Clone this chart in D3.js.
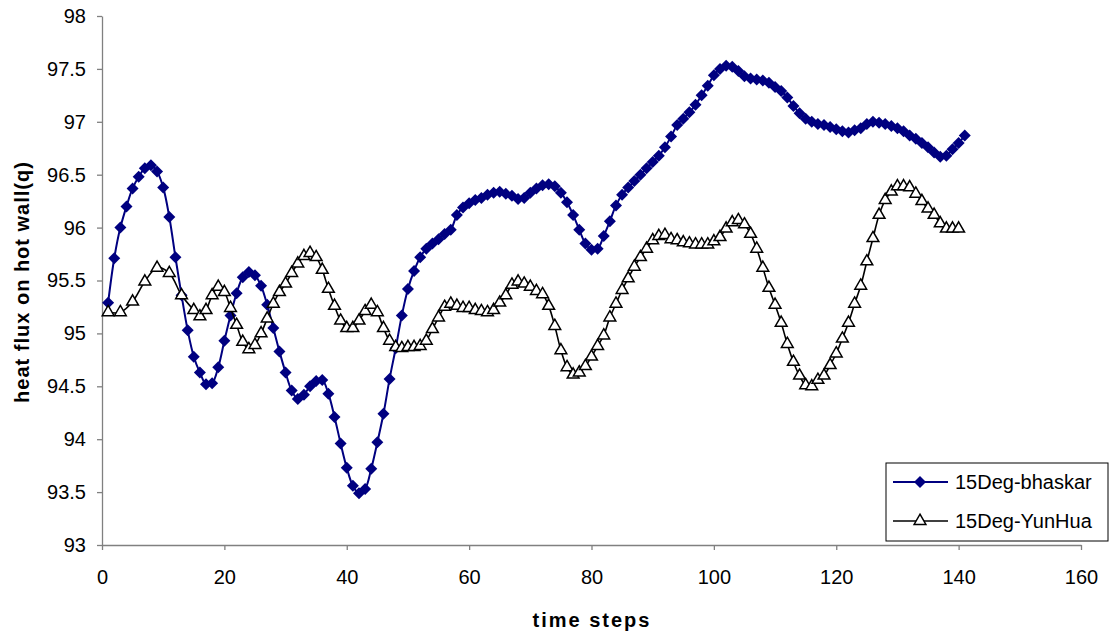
<!DOCTYPE html>
<html>
<head>
<meta charset="utf-8">
<script src="https://cdn.jsdelivr.net/npm/d3@7"></script>
<style>
	body { margin: 0; background: #fff; }
	text { font-family: "Liberation Sans", Arial, sans-serif; }
</style>
</head>
<body>
<div id="g-container"></div>
<script>

	// time steps / heat flux values
	var bhaskar = [
		95.29, 95.71, 96.0, 96.2, 96.37, 96.48, 96.56, 96.59, 96.53, 96.38,
		96.1, 95.72, 95.36, 95.03, 94.78, 94.63, 94.52, 94.53, 94.68, 94.93,
		95.17, 95.38, 95.53, 95.58, 95.55, 95.45, 95.27, 95.05, 94.83, 94.63,
		94.46, 94.38, 94.42, 94.5, 94.55, 94.56, 94.43, 94.21, 93.96, 93.73,
		93.56, 93.49, 93.53, 93.72, 93.97, 94.24, 94.57, 94.86, 95.17, 95.42,
		95.59, 95.72, 95.8, 95.85, 95.89, 95.94, 95.98, 96.12, 96.19, 96.23,
		96.26, 96.28, 96.31, 96.33, 96.34, 96.32, 96.3, 96.27, 96.28, 96.33,
		96.37, 96.4, 96.41, 96.39, 96.33, 96.24, 96.12, 95.98, 95.85, 95.79,
		95.8, 95.92, 96.06, 96.21, 96.31, 96.38, 96.44, 96.5, 96.56, 96.62,
		96.68, 96.76, 96.86, 96.97, 97.03, 97.09, 97.16, 97.25, 97.34, 97.44,
		97.5, 97.53, 97.52, 97.48, 97.43, 97.41, 97.4, 97.39, 97.37, 97.33,
		97.29, 97.23, 97.15, 97.08, 97.03, 97.0, 96.98, 96.97, 96.95, 96.93,
		96.91, 96.9, 96.92, 96.94, 96.98, 97.0, 96.99, 96.98, 96.96, 96.94,
		96.91, 96.87, 96.84, 96.8, 96.76, 96.71, 96.67, 96.68, 96.74, 96.8, 96.87
	];

	var yunhuaSteps = [1, 3, 5, 7, 9, 11, 13,
		15, 16, 17, 18, 19, 20, 21, 22, 23, 24,
		25, 26, 27, 28, 29, 30, 31, 32, 33, 34,
		35, 36, 37, 38, 39, 40, 41, 42, 43, 44,
		45, 46, 47, 48, 49, 50, 51, 52, 53, 54,
		55, 56, 57, 58, 59, 60, 61, 62, 63, 64,
		65, 66, 67, 68, 69, 70, 71, 72, 73, 74,
		75, 76, 77, 78, 79, 80, 81, 82, 83, 84,
		85, 86, 87, 88, 89, 90, 91, 92, 93, 94,
		95, 96, 97, 98, 99, 100, 101, 102, 103, 104,
		105, 106, 107, 108, 109, 110, 111, 112, 113, 114,
		115, 116, 117, 118, 119, 120, 121, 122, 123, 124,
		125, 126, 127, 128, 129, 130, 131, 132, 133, 134,
		135, 136, 137, 138, 139, 140];

	var yunhua = [95.2, 95.2, 95.3, 95.49, 95.62, 95.57, 95.36,
		95.22, 95.16, 95.22, 95.36, 95.44, 95.39, 95.24, 95.08, 94.92, 94.85,
		94.89, 95.0, 95.14, 95.28, 95.39, 95.47, 95.57, 95.66, 95.73, 95.76,
		95.72, 95.6, 95.42, 95.26, 95.12, 95.05, 95.05, 95.12, 95.21, 95.27,
		95.2, 95.05, 94.93, 94.87, 94.86, 94.87, 94.87, 94.88, 94.93, 95.04,
		95.15, 95.25, 95.28, 95.26, 95.24, 95.24, 95.22, 95.21, 95.2, 95.22,
		95.29, 95.36, 95.46, 95.49, 95.47, 95.44, 95.4, 95.37, 95.26, 95.07,
		94.84, 94.68, 94.61, 94.63, 94.69, 94.78, 94.88, 94.98, 95.15, 95.28,
		95.41, 95.52, 95.63, 95.72, 95.8, 95.88, 95.92, 95.93, 95.89, 95.88,
		95.86, 95.85, 95.84, 95.84, 95.84, 95.87, 95.91, 95.99, 96.05, 96.07,
		96.03, 95.94, 95.8, 95.62, 95.43, 95.27, 95.1, 94.9, 94.73, 94.6,
		94.51, 94.5, 94.56, 94.6, 94.7, 94.81, 94.95, 95.1, 95.28, 95.45,
		95.68, 95.9, 96.12, 96.26, 96.34, 96.39, 96.39, 96.38, 96.32, 96.25,
		96.18, 96.12, 96.04, 95.99, 95.99, 95.99];

	var xTicks = [0, 20, 40, 60, 80, 100, 120, 140, 160];
	var yTicks = [93, 93.5, 94, 94.5, 95, 95.5, 96, 96.5, 97, 97.5, 98];
	var seriesNames = ["15Deg-bhaskar", "15Deg-YunHua"];

	var W = 1115, H = 635;
	var svg = d3.select("#g-container").append("svg").attr("width", W).attr("height", H);

	var x = d3.scaleLinear().domain([0, 160]).range([102, 1081]);
	var y = d3.scaleLinear().domain([93, 98]).range([545, 16]);

	var blueData = bhaskar.map(function(v, i){ return {x: i + 1, y: v}; });
	var blackData = yunhua.map(function(v, i){ return {x: yunhuaSteps[i], y: v}; });

	// axes
	var xAxis = svg.append("g").attr("transform", "translate(0," + y(93) + ")")
		.call(d3.axisBottom(x).tickValues(xTicks).tickSize(5).tickSizeOuter(0).tickPadding(20).tickFormat(d3.format("d")));
	var yAxis = svg.append("g").attr("transform", "translate(" + x(0) + ",0)")
		.call(d3.axisLeft(y).tickValues(yTicks).tickSize(5).tickSizeOuter(0).tickPadding(11).tickFormat(function(d){ return d; }));

	[xAxis, yAxis].forEach(function(a){
		a.select(".domain").attr("stroke", "#808080").attr("stroke-width", 1.3);
		a.selectAll(".tick line").attr("stroke", "#808080").attr("stroke-width", 1.3);
		a.selectAll(".tick text").style("font-size", "20px").attr("fill", "#000");
	});

	svg.append("text").attr("x", 592).attr("y", 627).style("text-anchor", "middle")
		.style("font-size", "20px").style("font-weight", "bold").style("letter-spacing", "2px")
		.text("time steps");

	svg.append("text").attr("transform", "translate(29,282) rotate(-90)").style("text-anchor", "middle")
		.style("font-size", "20px").style("font-weight", "bold").style("letter-spacing", "1px")
		.text("heat flux on hot wall(q)");

	var line = d3.line().x(function(d){ return x(d.x); }).y(function(d){ return y(d.y); }).curve(d3.curveCatmullRom);

	var diamond = d3.symbol().type(d3.symbolSquare).size(72);
	var triangle = d3.symbol().type(d3.symbolTriangle).size(60);

	// blue series
	svg.append("path").datum(blueData).attr("d", line)
		.attr("fill", "none").attr("stroke", "#000080").attr("stroke-width", 2);
	svg.append("g").selectAll("path").data(blueData).enter().append("path")
		.attr("d", diamond)
		.attr("transform", function(d){ return "translate(" + x(d.x) + "," + y(d.y) + ") rotate(45)"; })
		.attr("fill", "#000080");

	// black series on top
	svg.append("path").datum(blackData).attr("d", line)
		.attr("fill", "none").attr("stroke", "#000").attr("stroke-width", 1.6);
	svg.append("g").selectAll("path").data(blackData).enter().append("path")
		.attr("d", triangle)
		.attr("transform", function(d){ return "translate(" + x(d.x) + "," + y(d.y) + ")"; })
		.attr("fill", "#fff").attr("stroke", "#000").attr("stroke-width", 1.5);

	// legend
	var legend = svg.append("g").attr("transform", "translate(886,463)");
	legend.append("rect").attr("width", 222).attr("height", 78)
		.attr("fill", "#fff").attr("stroke", "#000").attr("stroke-width", 1);

	var items = legend.selectAll("g.item").data(seriesNames).enter().append("g")
		.attr("class", "item")
		.attr("transform", function(d, i){ return "translate(0," + (19 + i * 39) + ")"; });

	items.append("line").attr("x1", 7).attr("x2", 62).attr("y1", 0).attr("y2", 0)
		.attr("stroke", function(d, i){ return i == 0 ? "#000080" : "#000"; })
		.attr("stroke-width", function(d, i){ return i == 0 ? 2 : 1.6; });

	items.append("path")
		.attr("d", function(d, i){ return i == 0 ? diamond() : triangle(); })
		.attr("transform", function(d, i){ return "translate(34,0)" + (i == 0 ? " rotate(45)" : ""); })
		.attr("fill", function(d, i){ return i == 0 ? "#000080" : "#fff"; })
		.attr("stroke", function(d, i){ return i == 0 ? "none" : "#000"; })
		.attr("stroke-width", 1.5);

	items.append("text").attr("x", 69).attr("y", 7).style("font-size", "20px").text(function(d){ return d; });

</script>
</body>
</html>
